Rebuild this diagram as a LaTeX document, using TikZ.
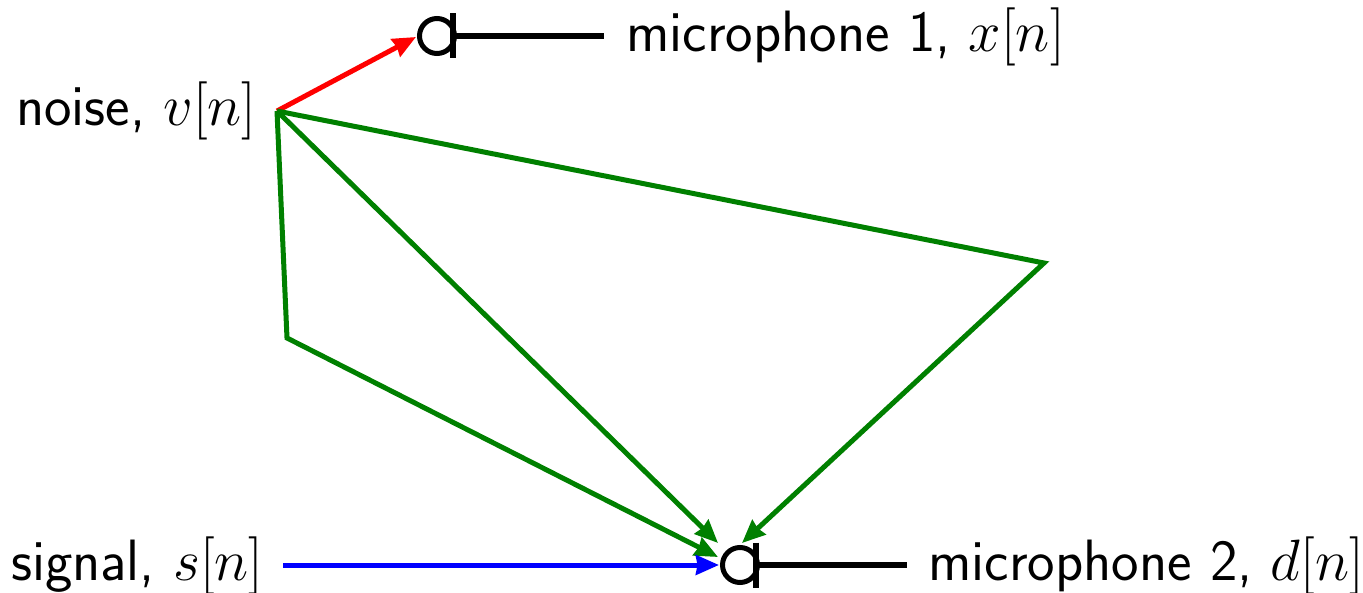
\documentclass[tikz,border=0pt]{standalone}
\usepackage[dvipsnames]{xcolor}
\usetikzlibrary{arrows.meta,positioning}
\definecolor{pathgreen}{RGB}{0,128,0}
\tikzset{
  mic/.style={
    inner sep = 0pt,
    minimum size = 0.7cm,
    shape = circle,
    draw,
    line width = 0.1cm
  },
  wire/.style={
    line width = 0.11cm
  },
  path/.style={
    line width = 0.1cm,
    line join = miter,
    -{Stealth[length=0.46cm,width=0.39cm,inset=0.03cm]}
  },
  label/.style={
    font = \Huge\sffamily,
    scale = 1.334,
    transform shape,
    inner sep = 0pt
  },
}
\begin{document}
\begin{tikzpicture}[x=0.02cm,y=0.02cm]
    \useasboundingbox (0,0) rectangle (1363,592);
    \def\dbar{22.5}
    % microphones
    \node[mic] (mica) at (437,556) {};
    \node[mic] (micb) at (740,27) {};
    \coordinate (bara) at (453,556);
    \coordinate (barb) at (756,27);
    \coordinate (enda) at (604,556);
    \coordinate (endb) at (907,27);
    \draw[wire] (bara) -- (enda);
    \draw[wire] (barb) -- (endb);
    \draw[wire] ([yshift=\dbar*0.02cm]bara) -- ([yshift=-\dbar*0.02cm]bara);
    \draw[wire] ([yshift=\dbar*0.02cm]barb) -- ([yshift=-\dbar*0.02cm]barb);
    % labels
    \node[label,anchor=west] (labela) at (626,555) {microphone 1, $x[n]$};
    \node[label,anchor=west] (labelb) at (928,26) {microphone 2, $d[n]$};
    \node[label,anchor=east] (noise) at (257,481) {noise, $v[n]$};
    \node[label,anchor=east] (signal) at (264,26) {signal, $s[n]$};
    % paths
    \coordinate (source) at (277,481);
    \coordinate (start) at (283,27);
    \coordinate (right) at (1044,329);
    \coordinate (left) at (287,254);
    \coordinate (tipa) at (416,555);
    \coordinate (tipb) at (718,49);
    \coordinate (tipc) at (742,49);
    \coordinate (tipd) at (718,35);
    \coordinate (tipe) at (719,27);
    \draw[path,red] (source) -- (tipa);
    \draw[path,pathgreen] (source) -- (tipb);
    \draw[path,pathgreen] (source) -- (right) -- (tipc);
    \draw[path,pathgreen] (source) -- (left) -- (tipd);
    \draw[path,blue] (start) -- (tipe);
\end{tikzpicture}
\end{document}
